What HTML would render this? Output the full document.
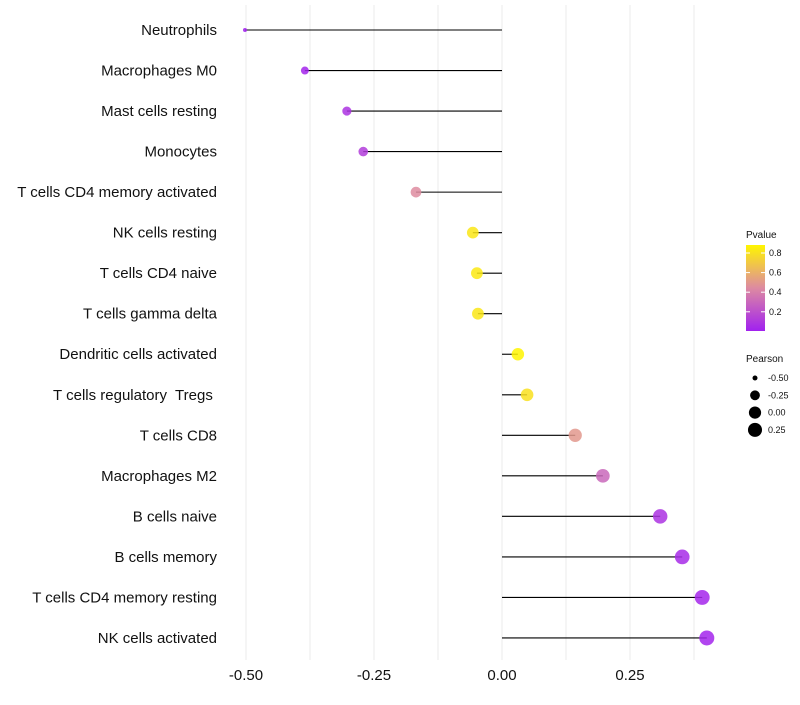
<!DOCTYPE html>
<html><head><meta charset="utf-8"><style>
body{margin:0;background:#fff;font-family:"Liberation Sans",sans-serif}
svg text{font-family:"Liberation Sans",sans-serif;white-space:pre}
</style></head><body>
<svg id="c" width="800" height="700"></svg>
<script>
const categories=["Neutrophils","Macrophages M0","Mast cells resting","Monocytes","T cells CD4 memory activated","NK cells resting","T cells CD4 naive","T cells gamma delta","Dendritic cells activated","T cells regulatory  Tregs ","T cells CD8","Macrophages M2","B cells naive","B cells memory","T cells CD4 memory resting","NK cells activated"];
const pearson=[-0.502,-0.385,-0.303,-0.271,-0.168,-0.057,-0.049,-0.047,0.031,0.049,0.143,0.197,0.309,0.352,0.391,0.400];
const pvalue=[0.01,0.02,0.08,0.12,0.45,0.82,0.83,0.82,0.88,0.80,0.50,0.30,0.08,0.05,0.03,0.02];
const xTicks=[-0.5,-0.25,0,0.25];
const xTickLabels=["-0.50","-0.25","0.00","0.25"];
const pTicks=[0.2,0.4,0.6,0.8];
const sizeTicks=[-0.5,-0.25,0,0.25];
const sizeTickLabels=["-0.50","-0.25","0.00","0.25"];

const NS="http://www.w3.org/2000/svg";
const svg=document.getElementById('c');
function el(t,a,p){const e=document.createElementNS(NS,t);for(const k in a)e.setAttribute(k,a[k]);(p||svg).appendChild(e);return e;}
const x=v=>502+512*v;
const y=i=>30+i*40.53;
const r=v=>2+5.5*Math.sqrt(Math.max(v+0.502,0)/0.902);
function lerp(a,b,t){return a.map((v,i)=>Math.round(v+(b[i]-v)*t));}
function col(p){const s=[[0,[160,32,240]],[0.45,[222,140,160]],[0.88,[255,245,0]]];
 p=Math.max(0,Math.min(0.88,p));
 for(let i=0;i<s.length-1;i++){if(p<=s[i+1][0]){const t=(p-s[i][0])/(s[i+1][0]-s[i][0]);const c=lerp(s[i][1],s[i+1][1],t);return `rgb(${c})`;}}
 return 'rgb(255,245,0)';}
for(let v=-0.5;v<=0.41;v+=0.125){const g=el('line',{x1:x(v),x2:x(v),y1:5,y2:660,stroke:'#ebebeb','stroke-width':1});
}
xTicks.forEach((v,i)=>{const t=el('text',{x:x(v),y:680,'text-anchor':'middle','font-size':15,fill:'#111'});t.textContent=xTickLabels[i];
});
categories.forEach((c,i)=>{
 const t=el('text',{x:217,y:y(i)+5,'text-anchor':'end','font-size':15,fill:'#111'});t.textContent=c;
 
 const l=el('line',{x1:x(0),x2:x(pearson[i]),y1:y(i),y2:y(i),stroke:'#000','stroke-width':1.1});
 
 const d=el('circle',{cx:x(pearson[i]),cy:y(i),r:r(pearson[i]),fill:col(pvalue[i]),'fill-opacity':0.85});
 
});
let t=el('text',{x:746,y:238,'font-size':10,fill:'#111'});t.textContent='Pvalue';

const defs=el('defs',{});const lg=el('linearGradient',{id:'pg',x1:0,y1:1,x2:0,y2:0},defs);
for(let k=0;k<=10;k++){const p=0.004+k*(0.876/10);el('stop',{offset:k/10,'stop-color':col(p)},lg);}
const bar=el('rect',{x:746,y:245,width:19,height:86,fill:'url(#pg)'});

const py=p=>331-(p-0.004)*98;
pTicks.forEach(p=>{el('line',{x1:746,x2:750,y1:py(p),y2:py(p),stroke:'#fff'});el('line',{x1:761,x2:765,y1:py(p),y2:py(p),stroke:'#fff'});
 const tt=el('text',{x:769,y:py(p)+3,'font-size':9,fill:'#111'});tt.textContent=p.toFixed(1);
 });
t=el('text',{x:746,y:362,'font-size':10,fill:'#111'});t.textContent='Pearson';

sizeTicks.forEach((v,i)=>{const cy=378+i*17.3;
 const c=el('circle',{cx:755,cy:cy,r:Math.max(r(v),2.5),fill:'#000'});
 
 const tt=el('text',{x:768,y:cy+3,'font-size':9,fill:'#111'});tt.textContent=sizeTickLabels[i];
 });
</script>
</body></html>
